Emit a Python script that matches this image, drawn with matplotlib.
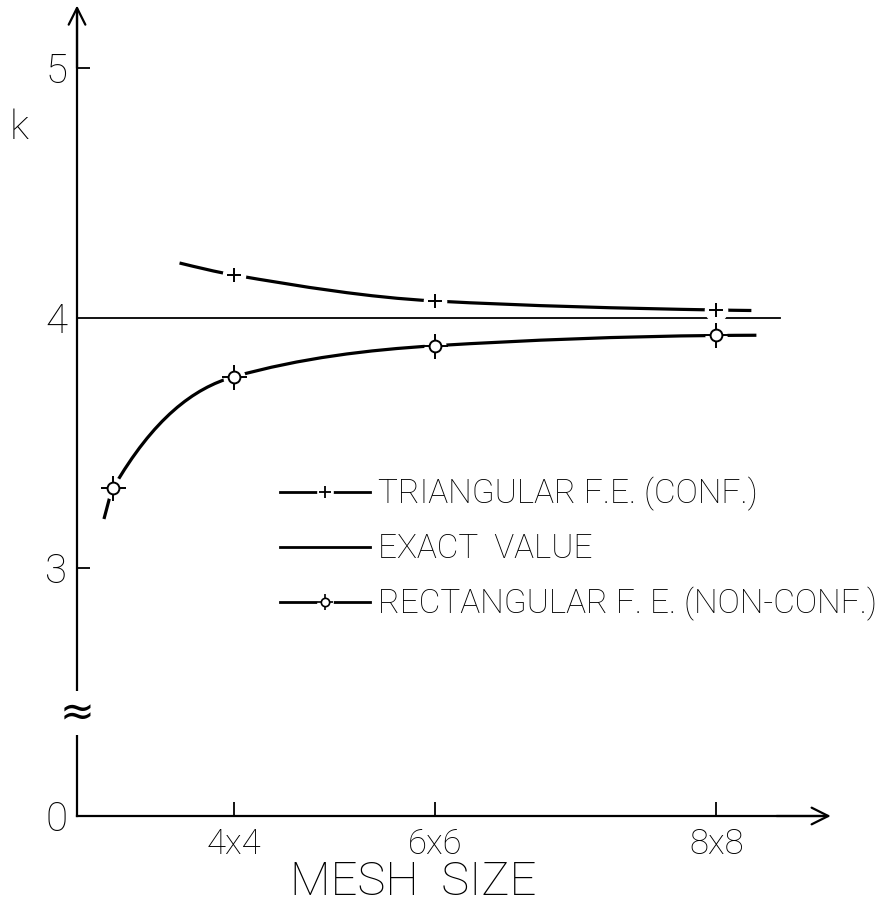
import numpy as np
import matplotlib
matplotlib.use("Agg")
import matplotlib.pyplot as plt
from matplotlib.path import Path
from matplotlib.patches import PathPatch
from matplotlib.lines import Line2D
from matplotlib.legend_handler import HandlerTuple

plt.rcParams['font.family'] = ['Roboto', 'DejaVu Sans']
plt.rcParams['font.weight'] = 'light'

# Number of elements (n x n mesh -> n^2) and computed eigenvalue k
mesh_labels = ["4x4", "6x6", "8x8"]
mesh_ticks = [16, 36, 64]

tri_n2 = [16, 36, 64]
tri_k = [4.172, 4.068, 4.032]
# drawn extent of the triangular-element curve
tri_curve_n2 = [10.6, 16, 36, 64, 67.5]
tri_curve_k = [4.22, 4.172, 4.068, 4.032, 4.030]

rect_n2 = [4, 16, 36, 64]
rect_k = [3.32, 3.765, 3.889, 3.930]
# drawn extent of the rectangular-element curve
rect_curve_n2 = [3.08, 4, 16, 36, 64, 68]
rect_curve_k = [3.196, 3.32, 3.765, 3.889, 3.930, 3.931]

exact_k = 4.0
exact_span = [0.4, 70.3]

# broken k axis: the value 0 is drawn at this display position
k_zero_pos = 2.008
k_break_pos = 2.42
ytick_pos = [k_zero_pos, 3, 4, 5]
ytick_labels = ["0", "3", "4", "5"]


def pchip_slopes(x, y):
    x = np.asarray(x, float)
    y = np.asarray(y, float)
    h = np.diff(x)
    d = np.diff(y) / h
    m = np.zeros_like(x)
    for i in range(1, len(x) - 1):
        if d[i - 1] * d[i] <= 0:
            m[i] = 0.0
        else:
            w1 = 2 * h[i] + h[i - 1]
            w2 = h[i] + 2 * h[i - 1]
            m[i] = (w1 + w2) / (w1 / d[i - 1] + w2 / d[i])
    m[0] = ((2 * h[0] + h[1]) * d[0] - h[0] * d[1]) / (h[0] + h[1])
    if m[0] * d[0] <= 0:
        m[0] = 0.0
    m[-1] = ((2 * h[-1] + h[-2]) * d[-1] - h[-1] * d[-2]) / (h[-1] + h[-2])
    if m[-1] * d[-1] <= 0:
        m[-1] = 0.0
    return m


def smooth_path(x, y):
    m = pchip_slopes(x, y)
    verts = [(x[0], y[0])]
    codes = [Path.MOVETO]
    for i in range(len(x) - 1):
        h = x[i + 1] - x[i]
        verts += [(x[i] + h / 3, y[i] + m[i] * h / 3),
                  (x[i + 1] - h / 3, y[i + 1] - m[i + 1] * h / 3),
                  (x[i + 1], y[i + 1])]
        codes += [Path.CURVE4] * 3
    return Path(verts, codes)


W, H = 881, 913
fig = plt.figure(figsize=(W / 100, H / 100), dpi=100)
fig.patch.set_facecolor("white")

x_left_px, x_per_unit = 73.0, 10.05
y4_px, y_per_unit = 318.0, 250.0
xlim = (0, 80)
ylim = (2.0, 5.25)
ax_left = x_left_px / W
ax_width = (xlim[1] - xlim[0]) * x_per_unit / W
ax_bottom = 1 - (y4_px + (4 - ylim[0]) * y_per_unit) / H
ax_height = (ylim[1] - ylim[0]) * y_per_unit / H
ax = fig.add_axes([ax_left, ax_bottom, ax_width, ax_height])
ax.set_xlim(*xlim)
ax.set_ylim(*ylim)
ax.patch.set_visible(False)

axis_lw = 1.6
for s in ("top", "right"):
    ax.spines[s].set_visible(False)
ax.spines["left"].set_position(("data", 0.4))
ax.spines["bottom"].set_position(("data", k_zero_pos))
ax.spines["left"].set_bounds(k_zero_pos, 5.22)
ax.spines["bottom"].set_bounds(0.4, 74.5)
for s in ("left", "bottom"):
    ax.spines[s].set_linewidth(axis_lw)

# arrow heads at the ends of both axes
arrow_kw = dict(arrowstyle="->", lw=axis_lw, color="k", shrinkA=0, shrinkB=0,
                mutation_scale=30)
ax.annotate("", xy=(0.4, 5.25), xytext=(0.4, 5.0), arrowprops=arrow_kw,
            annotation_clip=False)
ax.annotate("", xy=(75.4, k_zero_pos), xytext=(70, k_zero_pos),
            arrowprops=arrow_kw, annotation_clip=False)

ax.set_xticks(mesh_ticks)
ax.set_xticklabels(mesh_labels, fontsize=25)
ax.tick_params(axis="x", direction="in", length=10, width=1.3, pad=8)
ax.set_yticks(ytick_pos)
ax.set_yticklabels(ytick_labels, fontsize=29)
ax.tick_params(axis="y", direction="in", length=9.5, width=1.3, pad=7)
for i, t in enumerate(ax.yaxis.get_major_ticks()):
    if ytick_pos[i] in (k_zero_pos, 4):
        t.tick1line.set_visible(False)

# axis break mark
ax.text(0.4, k_break_pos, "≈", fontsize=30, ha="center", va="center",
        family="DejaVu Sans", fontweight="normal",
        bbox=dict(facecolor="white", edgecolor="none", pad=0.5),
        zorder=5, clip_on=False)

fig.text(19 / W, 1 - 128 / H, "k", fontsize=29, ha="center", va="center")
fig.text(413 / W, 1 - 882 / H, "MESH  SIZE", fontsize=34, ha="center",
         va="center")

curve_lw = 2.3
# exact value
ax.plot(exact_span, [exact_k, exact_k], color="k", lw=1.3, zorder=2)

# triangular elements
ax.add_patch(PathPatch(smooth_path(tri_curve_n2, tri_curve_k), fill=False,
                       lw=curve_lw, edgecolor="k", zorder=3))
ax.plot(tri_n2, tri_k, ls="none", marker="o", ms=16, mfc="white",
        mec="white", zorder=4)
ax.plot(tri_n2, tri_k, ls="none", marker="+", ms=10.5, mew=1.4, color="k",
        zorder=5)

# rectangular elements
ax.add_patch(PathPatch(smooth_path(rect_curve_n2, rect_curve_k), fill=False,
                       lw=curve_lw, edgecolor="k", zorder=3))
ax.plot(rect_n2, rect_k, ls="none", marker="o", ms=15, mfc="white",
        mec="white", zorder=4)
ax.plot(rect_n2, rect_k, ls="none", marker="+", ms=18, mew=1.4, color="k",
        zorder=5)
ax.plot(rect_n2, rect_k, ls="none", marker="o", ms=8.5, mew=1.4, mfc="white",
        mec="k", zorder=6)

# legend
legend_lw = 2.0
h_tri = (Line2D([], [], color="k", lw=legend_lw),
         Line2D([], [], ls="none", marker="o", ms=11, mfc="white", mec="white"),
         Line2D([], [], ls="none", marker="+", ms=9, mew=1.3, color="k"))
h_exact = Line2D([], [], color="k", lw=legend_lw)
h_rect = (Line2D([], [], color="k", lw=legend_lw),
          Line2D([], [], ls="none", marker="o", ms=11, mfc="white", mec="white"),
          Line2D([], [], ls="none", marker="+", ms=12, mew=1.2, color="k"),
          Line2D([], [], ls="none", marker="o", ms=6, mew=1.2, mfc="white",
                 mec="k"))
leg = ax.legend([h_tri, h_exact, h_rect],
                ["TRIANGULAR F.E. (CONF.)", "EXACT  VALUE",
                 "RECTANGULAR F. E. (NON-CONF.)"],
                handler_map={tuple: HandlerTuple(ndivide=1, pad=0)},
                loc="upper left", bbox_to_anchor=(280 / W, 1 - 477 / H),
                bbox_transform=fig.transFigure, frameon=False, fontsize=24,
                handlelength=2.7, handletextpad=0.25, labelspacing=0.66,
                borderpad=0, borderaxespad=0, numpoints=1)

fig.savefig("out.png", dpi=100, facecolor="white")
